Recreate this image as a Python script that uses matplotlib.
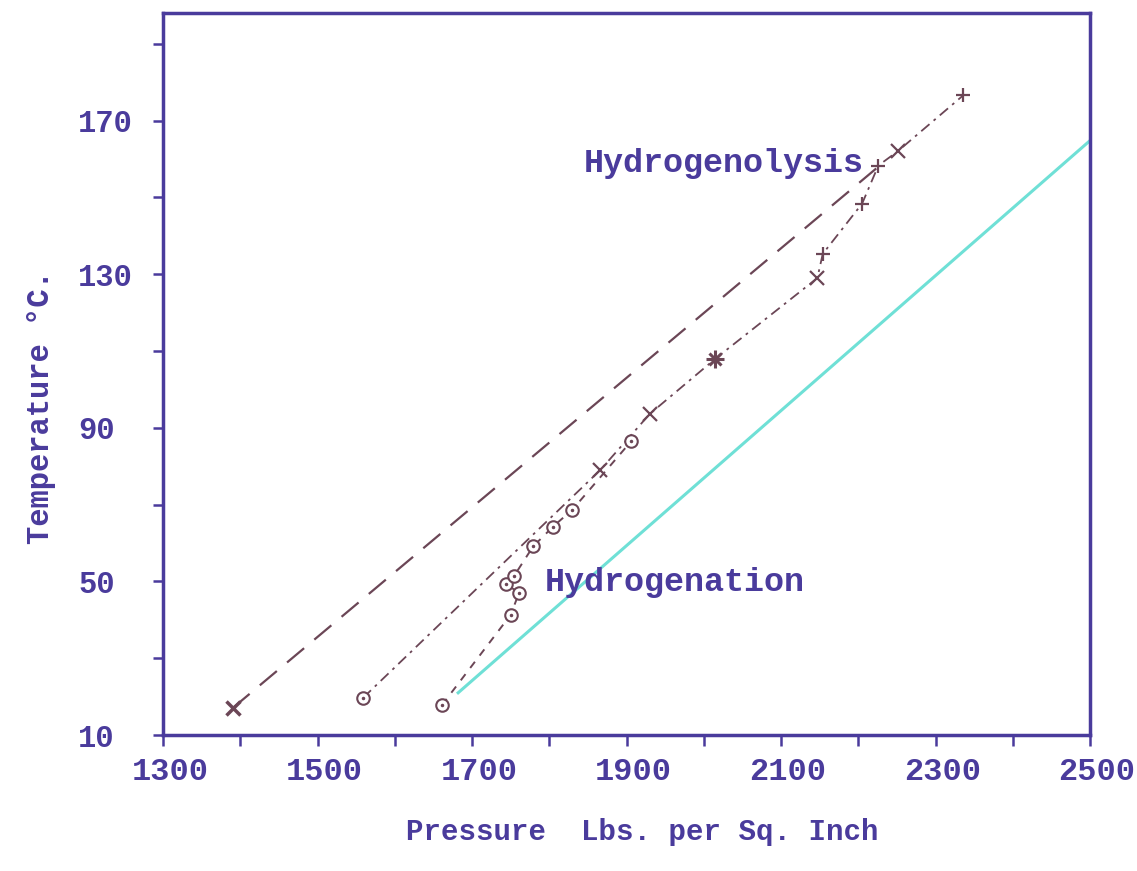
import numpy as np
import matplotlib
matplotlib.use("Agg")
from matplotlib import pyplot as plt
from matplotlib import transforms
from matplotlib.ticker import FixedLocator, FixedFormatter

# dashed line from the lowest hydrogenolysis point
linha_a_p = [1390, 2226]
linha_a_t = [17, 158]

# hydrogenolysis curve (dash-dot)
hidrogenolise_p = [1559, 1866, 1930, 2015, 2147, 2154, 2205, 2226, 2251, 2336]
hidrogenolise_t = [19.7, 79, 93.6, 108, 129, 135.3, 148.4, 158.3, 162, 176.6]
hidrogenolise_m = ['o', 'x', 'x', '*', 'x', '+', '+', '+', 'x', '+']

# hydrogenation curve (short dashes, circles)
hidrogenacao_p = [1661, 1750, 1761, 1744, 1754, 1779, 1805, 1830, 1906]
hidrogenacao_t = [17.8, 41.3, 47.1, 49.2, 51.3, 59.1, 64.3, 68.7, 86.5]

# cyan straight line
ciano_p = [1682, 2500]
ciano_t = [21, 164.8]

ticks_x = list(range(1300, 2501, 100))
rotulos_x = [str(v) if (v - 1300) % 200 == 0 else '' for v in ticks_x]
ticks_y = list(range(10, 191, 20))
rotulos_y = [str(v) if (v - 10) % 40 == 0 else '' for v in ticks_y]

azul = '#4a3b9c'
marrom = '#6b4656'
fonte = ['Liberation Mono', 'DejaVu Sans Mono']

fig = plt.figure(figsize=(11.37, 8.71), dpi=100)
ax = fig.add_axes([0.1434, 0.1561, 0.9587 - 0.1434, 0.985 - 0.1561])

ax.plot(linha_a_p, linha_a_t, color=marrom, lw=1.6, linestyle=(0, (10, 6)))
ax.plot(linha_a_p[0], linha_a_t[0], 'x', color=marrom, ms=10, mew=2.5)

ax.plot(hidrogenolise_p, hidrogenolise_t, color=marrom, lw=1.3,
        linestyle=(0, (6, 3, 1.5, 3)))
for p, t, m in zip(hidrogenolise_p, hidrogenolise_t, hidrogenolise_m):
    if m == 'o':
        ax.plot(p, t, 'o', ms=9, mfc='white', mec=marrom, mew=1.5)
        ax.plot(p, t, '.', ms=3, color=marrom)
    elif m == '*':
        ax.plot(p, t, '+', ms=13, color=marrom, mew=2.2)
        ax.plot(p, t, 'x', ms=9, color=marrom, mew=2.2)
    else:
        ax.plot(p, t, m, ms=10, color=marrom, mew=1.6)

ax.plot(hidrogenacao_p, hidrogenacao_t, color=marrom, lw=1.4,
        linestyle=(0, (4, 4)))
ax.plot(hidrogenacao_p, hidrogenacao_t, 'o', ms=9, mfc='white', mec=marrom, mew=1.5)
ax.plot(hidrogenacao_p, hidrogenacao_t, '.', ms=3, color=marrom)

ax.plot(ciano_p, ciano_t, color='#6fe0d6', lw=2.2)

ax.set_xlim(1300, 2500)
ax.set_ylim(10, 198)

ax.xaxis.set_major_locator(FixedLocator(ticks_x))
ax.xaxis.set_major_formatter(FixedFormatter(rotulos_x))
ax.yaxis.set_major_locator(FixedLocator(ticks_y))
ax.yaxis.set_major_formatter(FixedFormatter(rotulos_y))

for s in ax.spines.values():
    s.set_color(azul)
    s.set_linewidth(2.5)

ax.tick_params(axis='x', direction='out', length=8, width=1.8, color=azul,
               labelcolor=azul, labelsize=23, pad=8)
ax.tick_params(axis='y', direction='out', length=7, width=1.8, color=azul,
               labelcolor=azul, labelsize=22, pad=54)
desloc = transforms.ScaledTranslation(0.07, 0, fig.dpi_scale_trans)
for lab in ax.get_xticklabels():
    lab.set_family(fonte)
    lab.set_fontweight('bold')
    lab.set_transform(lab.get_transform() + desloc)
for lab in ax.get_yticklabels():
    lab.set_family(fonte)
    lab.set_fontweight('bold')
    lab.set_horizontalalignment('left')

ax.set_xlabel('Pressure  Lbs. per Sq. Inch', family=fonte, fontsize=21,
              fontweight='bold', color=azul)
ax.xaxis.set_label_coords(0.517, -0.115)
ax.set_ylabel('Temperature °C.', family=fonte, fontsize=22,
              fontweight='bold', color=azul)
ax.yaxis.set_label_coords(-0.115, 0.454)

ax.text(1844, 158.8, 'Hydrogenolysis', family=fonte, fontsize=24,
        fontweight='bold', color=azul, va='center', ha='left')
ax.text(1794, 49.7, 'Hydrogenation', family=fonte, fontsize=24,
        fontweight='bold', color=azul, va='center', ha='left')

fig.savefig('out.png', dpi=100)
